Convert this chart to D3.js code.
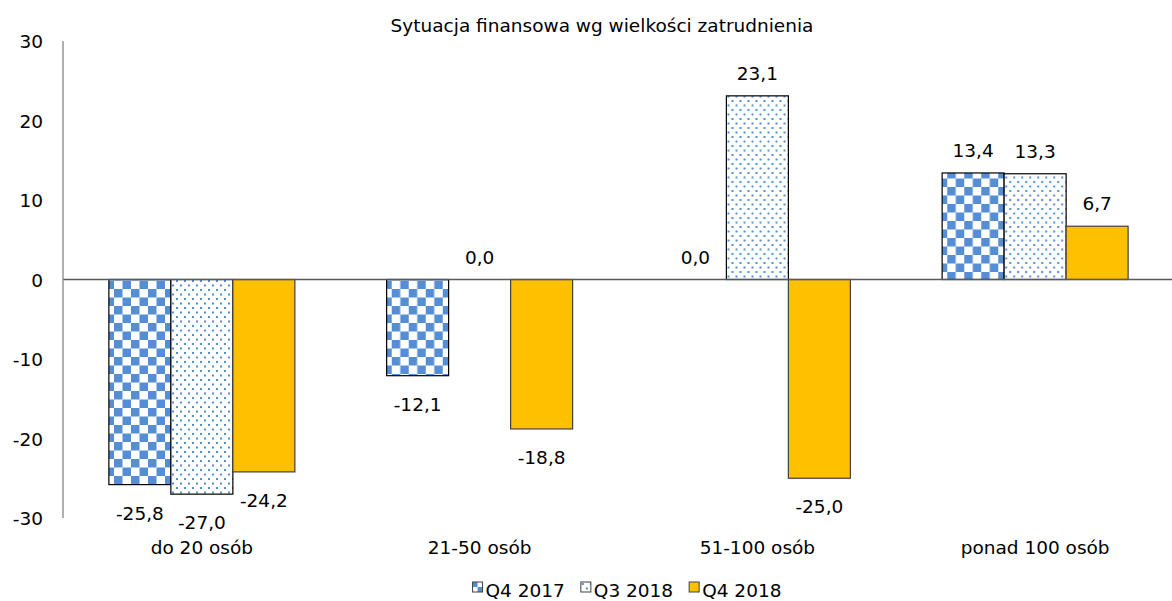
<!DOCTYPE html>
<html>
<head>
<meta charset="utf-8">
<script src="https://cdn.jsdelivr.net/npm/d3@7"></script>
<style>
  body { margin: 0; background: #fff; }
  text { font-family: "DejaVu Sans", sans-serif; fill: #000; }
</style>
</head>
<body>
<svg id="chart" width="1172" height="601"></svg>
<script>
// chart data
const categories = ["do 20 osób", "21-50 osób", "51-100 osób", "ponad 100 osób"];
const seriesNames = ["Q4 2017", "Q3 2018", "Q4 2018"];
const q4_2017 = [-25.8, -12.1, 0.0, 13.4];
const q3_2018 = [-27.0, 0.0, 23.1, 13.3];
const q4_2018 = [-24.2, -18.8, -25.0, 6.7];
const yTicks = [-30, -20, -10, 0, 10, 20, 30];
const title = "Sytuacja finansowa wg wielkości zatrudnienia";

const seriesValues = [q4_2017, q3_2018, q4_2018];
const fills = ["url(#checker)", "url(#dots)", "#FFC000"];
const strokes = ["#000", "#000", "#404040"];
const BLUE = "#558ED5";

const svg = d3.select("#chart");
const plot = { left: 63, right: 1174, top: 41, bottom: 518 };

// patterns
const defs = svg.append("defs");
const checker = defs.append("pattern")
  .attr("id", "checker")
  .attr("patternUnits", "userSpaceOnUse")
  .attr("width", 17).attr("height", 17);
checker.append("rect").attr("width", 17).attr("height", 17).attr("fill", "#fff");
checker.append("rect").attr("width", 8.5).attr("height", 8.5).attr("fill", BLUE);
checker.append("rect").attr("x", 8.5).attr("y", 8.5).attr("width", 8.5).attr("height", 8.5).attr("fill", BLUE);

const dots = defs.append("pattern")
  .attr("id", "dots")
  .attr("patternUnits", "userSpaceOnUse")
  .attr("width", 8).attr("height", 9);
dots.append("rect").attr("width", 8).attr("height", 9).attr("fill", "#fff");
dots.append("rect").attr("x", 1).attr("y", 1).attr("width", 2).attr("height", 2).attr("fill", BLUE);
dots.append("rect").attr("x", 5).attr("y", 5.5).attr("width", 2).attr("height", 2).attr("fill", BLUE);

// legend swatch pattern (smaller cells)
const checkerSm = defs.append("pattern")
  .attr("id", "checkerSm")
  .attr("patternUnits", "userSpaceOnUse")
  .attr("width", 10).attr("height", 10);
checkerSm.append("rect").attr("width", 10).attr("height", 10).attr("fill", "#fff");
checkerSm.append("rect").attr("width", 5).attr("height", 5).attr("fill", BLUE);
checkerSm.append("rect").attr("x", 5).attr("y", 5).attr("width", 5).attr("height", 5).attr("fill", BLUE);

// scales
const y = d3.scaleLinear().domain([-30, 30]).range([plot.bottom, plot.top]);
const x0 = d3.scaleBand().domain(categories).range([plot.left, plot.right]).padding(0);
const x1 = d3.scaleBand().domain(seriesNames).range([0, x0.bandwidth()])
  .paddingInner(0).paddingOuter(0.74);

// title
svg.append("text")
  .attr("x", 602).attr("y", 32)
  .attr("text-anchor", "middle")
  .style("font-size", "18.5px")
  .text(title);

// y axis labels
svg.append("g").selectAll("text")
  .data(yTicks).enter().append("text")
  .attr("x", 43)
  .attr("y", d => y(d) + 7)
  .attr("text-anchor", "end")
  .style("font-size", "18.5px")
  .text(d => d);

// bars
const fmt = v => v.toFixed(1).replace(".", ",");
const groups = svg.append("g").selectAll("g")
  .data(categories).enter().append("g")
  .attr("transform", d => `translate(${x0(d)},0)`);

groups.each(function (cat, ci) {
  const g = d3.select(this);
  seriesNames.forEach((s, si) => {
    const v = seriesValues[si][ci];
    const top = y(Math.max(0, v));
    const h = Math.abs(y(v) - y(0));
    if (h > 0) {
      g.append("rect")
        .attr("x", x1(s))
        .attr("y", top)
        .attr("width", x1.bandwidth())
        .attr("height", h)
        .attr("fill", fills[si])
        .attr("stroke", strokes[si])
        .attr("stroke-width", 1.2);
    }
    g.append("text")
      .attr("x", x1(s) + x1.bandwidth() / 2)
      .attr("y", v >= 0 ? y(v) - 16 : y(v) + 35)
      .attr("text-anchor", "middle")
      .style("font-size", "18.5px")
      .text(fmt(v));
  });
});

// axes lines
svg.append("line")
  .attr("x1", plot.left).attr("x2", 1172)
  .attr("y1", y(0)).attr("y2", y(0))
  .attr("stroke", "#595959").attr("stroke-width", 1.3);
svg.append("line")
  .attr("x1", plot.left).attr("x2", plot.left)
  .attr("y1", plot.top).attr("y2", plot.bottom)
  .attr("stroke", "#868686").attr("stroke-width", 1.3);

// category labels
svg.append("g").selectAll("text")
  .data(categories).enter().append("text")
  .attr("x", d => x0(d) + x0.bandwidth() / 2)
  .attr("y", 554)
  .attr("text-anchor", "middle")
  .style("font-size", "18.5px")
  .text(d => d);

// legend, laid out from measured text widths and centred
const legendFills = ["url(#checkerSm)", "url(#dots)", "#FFC000"];
const legendG = svg.append("g");
const legend = legendG.selectAll("g")
  .data(seriesNames).enter().append("g");
legend.append("rect")
  .attr("width", 10).attr("height", 10)
  .attr("fill", (d, i) => legendFills[i])
  .attr("stroke", "#404040").attr("stroke-width", 1);
legend.append("text")
  .attr("x", 13).attr("y", 15)
  .style("font-size", "18.5px")
  .text(d => d);
let cursor = 0;
legend.each(function () {
  const w = d3.select(this).select("text").node().getComputedTextLength();
  d3.select(this).attr("transform", `translate(${cursor},0)`);
  cursor += 13 + w + 16;
});
const legendW = cursor - 16;
legendG.attr("transform", `translate(${627 - legendW / 2},582)`);
</script>
</body>
</html>
